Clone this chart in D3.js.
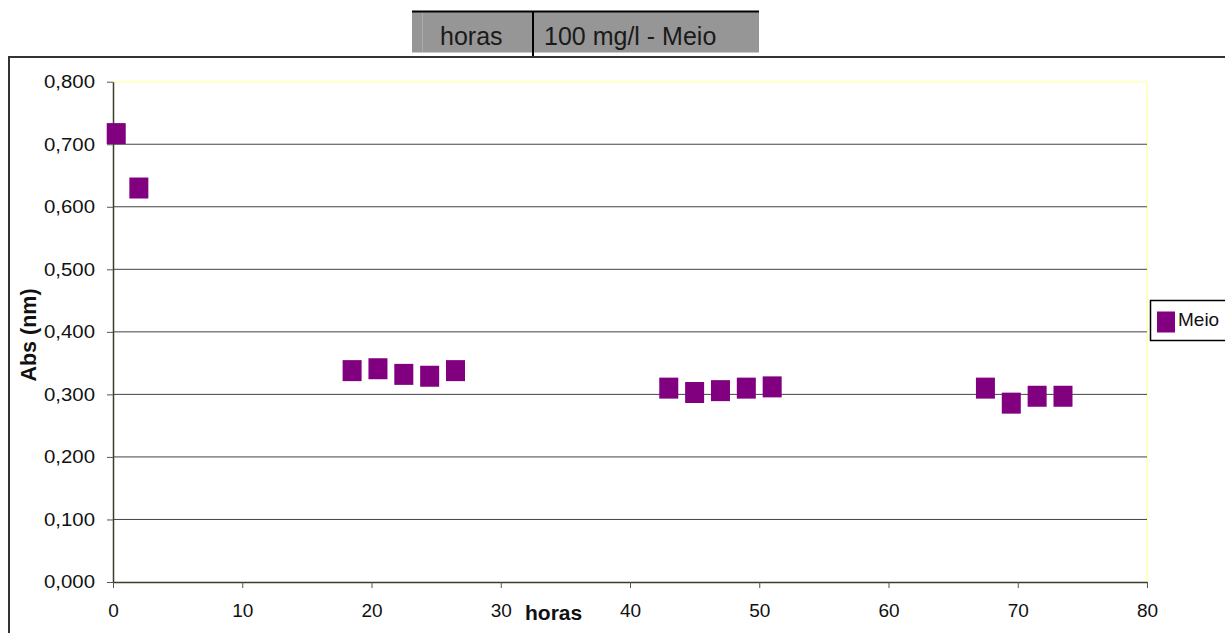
<!DOCTYPE html>
<html>
<head>
<meta charset="utf-8">
<script src="https://cdn.jsdelivr.net/npm/d3@7"></script>
<style>
  html, body { margin: 0; padding: 0; background: #fff; }
  svg { display: block; font-family: "Liberation Sans", Arial, sans-serif; }
</style>
</head>
<body>
<svg id="chart" width="1225" height="633"></svg>
<script>
// Absorbance over time, 100 mg/l - Meio
const horas = [0.25, 2, 18.5, 20.5, 22.5, 24.5, 26.5, 43, 45, 47, 49, 51, 67.5, 69.5, 71.5, 73.5];
const meio  = [0.717, 0.630, 0.338, 0.341, 0.332, 0.329, 0.338, 0.310, 0.303, 0.306, 0.310, 0.312, 0.310, 0.286, 0.297, 0.297];

const xTicks = [0, 10, 20, 30, 40, 50, 60, 70, 80];
const yTicks = [0, 0.1, 0.2, 0.3, 0.4, 0.5, 0.6, 0.7, 0.8];
const yTickLabels = ["0,000", "0,100", "0,200", "0,300", "0,400", "0,500", "0,600", "0,700", "0,800"];

const headerCells = ["horas", "100 mg/l - Meio"];
const seriesName = "Meio";
const xTitle = "horas";
const yTitle = "Abs (nm)";

const svg = d3.select("#chart");

const x = d3.scaleLinear().domain([0, 80]).range([113, 1147]);
const y = d3.scaleLinear().domain([0, 0.8]).range([582, 81.7]);

// header strip above the chart frame
svg.append("rect").attr("x", 412).attr("y", 11).attr("width", 347).attr("height", 41.5).attr("fill", "#969696");
svg.append("line").attr("x1", 412).attr("x2", 759).attr("y1", 11.5).attr("y2", 11.5).attr("stroke", "#000").attr("stroke-width", 2);
svg.append("line").attr("x1", 422.5).attr("x2", 422.5).attr("y1", 13).attr("y2", 52).attr("stroke", "#aaa").attr("stroke-width", 1);
svg.append("line").attr("x1", 533).attr("x2", 533).attr("y1", 11).attr("y2", 58).attr("stroke", "#000").attr("stroke-width", 2);
svg.append("text").attr("x", 440).attr("y", 45).attr("font-size", 25).attr("fill", "#1a1a1a").text(headerCells[0]);
svg.append("text").attr("x", 544).attr("y", 45).attr("font-size", 25).attr("fill", "#1a1a1a").text(headerCells[1]);

// chart frame
svg.append("rect").attr("x", 9).attr("y", 57).attr("width", 1400).attr("height", 800)
  .attr("fill", "none").attr("stroke", "#333").attr("stroke-width", 2);

// plot area border (top/right)
svg.append("line").attr("x1", x(0)).attr("x2", x(80)).attr("y1", y(0.8)).attr("y2", y(0.8)).attr("stroke", "#ffffc8").attr("stroke-width", 2);
svg.append("line").attr("x1", x(80)).attr("x2", x(80)).attr("y1", y(0.8)).attr("y2", y(0)).attr("stroke", "#ffffc8").attr("stroke-width", 2);

// horizontal gridlines
svg.append("g").selectAll("line")
  .data(yTicks.filter(v => v > 0 && v < 0.8))
  .join("line")
  .attr("x1", x(0)).attr("x2", x(80))
  .attr("y1", d => y(d)).attr("y2", d => y(d))
  .attr("stroke", "#444").attr("stroke-width", 1);

// y axis
const yAxis = svg.append("g").attr("transform", `translate(${x(0)},0)`)
  .call(d3.axisLeft(y).tickValues(yTicks).tickFormat((d, i) => yTickLabels[i]).tickSize(6).tickSizeOuter(0).tickPadding(12));
yAxis.select(".domain").attr("stroke", "#3c3c28").attr("stroke-width", 1.5);
yAxis.selectAll(".tick line").attr("stroke", "#555");
yAxis.selectAll(".tick text").attr("font-size", 18).attr("fill", "#111")
  .attr("font-family", "'Liberation Sans', Arial, sans-serif")
  .attr("textLength", 51).attr("lengthAdjust", "spacingAndGlyphs");

// x axis
const xAxis = svg.append("g").attr("transform", `translate(0,${y(0)})`)
  .call(d3.axisBottom(x).tickValues(xTicks).tickFormat(d3.format("d")).tickSize(6).tickSizeOuter(0).tickPadding(16));
xAxis.select(".domain").attr("stroke", "#3c3c28").attr("stroke-width", 1.5);
xAxis.selectAll(".tick line").attr("stroke", "#555");
xAxis.selectAll(".tick text").attr("font-size", 19).attr("fill", "#111")
  .attr("font-family", "'Liberation Sans', Arial, sans-serif");

// axis titles
svg.append("text").attr("x", 525).attr("y", 620).attr("font-size", 21).attr("font-weight", "bold").attr("fill", "#111").text(xTitle);
svg.append("text").attr("transform", "translate(36,335) rotate(-90)").attr("text-anchor", "middle")
  .attr("font-size", 21.5).attr("font-weight", "bold").attr("fill", "#111").text(yTitle);

// data markers
const mw = 19, mh = 21;
svg.append("g").selectAll("rect")
  .data(horas.map((h, i) => ({ h, v: meio[i] })))
  .join("rect")
  .attr("x", d => x(d.h) - mw / 2)
  .attr("y", d => y(d.v) - mh / 2)
  .attr("width", mw).attr("height", mh)
  .attr("fill", "#800080");

// legend
svg.append("rect").attr("x", 1150.5).attr("y", 300.5).attr("width", 90).attr("height", 40)
  .attr("fill", "#fff").attr("stroke", "#000").attr("stroke-width", 1.5);
svg.append("rect").attr("x", 1157).attr("y", 311.5).attr("width", 18).attr("height", 21).attr("fill", "#800080");
svg.append("text").attr("x", 1178).attr("y", 326).attr("font-size", 19).attr("fill", "#111").text(seriesName);
</script>
</body>
</html>
